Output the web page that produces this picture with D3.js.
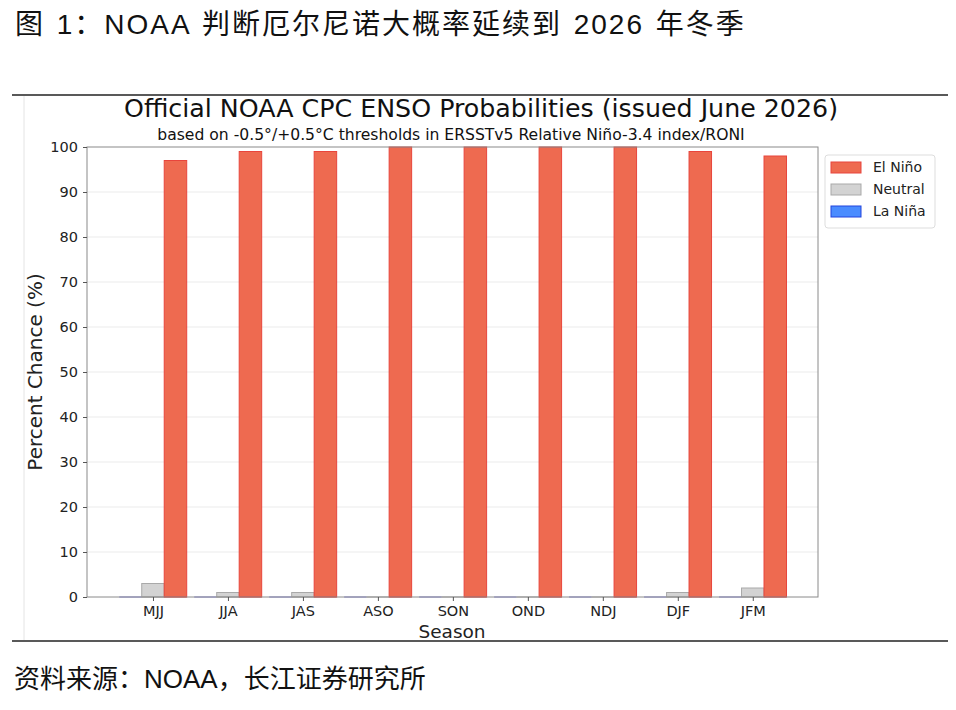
<!DOCTYPE html>
<html>
<head>
<meta charset="utf-8">
<script src="https://cdn.jsdelivr.net/npm/d3@7"></script>
<style>
  body { margin: 0; background: #fff; }
  svg { display: block; }
</style>
</head>
<body>
<div id="chart"></div>
<script>
const seasons = ['MJJ', 'JJA', 'JAS', 'ASO', 'SON', 'OND', 'NDJ', 'DJF', 'JFM'];
const laNina = [0, 0, 0, 0, 0, 0, 0, 0, 0];
const neutral = [3, 1, 1, 0, 0, 0, 0, 1, 2];
const elNino = [97, 99, 99, 100, 100, 100, 100, 99, 98];
const yTicks = [0, 10, 20, 30, 40, 50, 60, 70, 80, 90, 100];

const series = [
  { name: 'La Niña', values: laNina, offset: -1, fill: '#4a8cff', stroke: '#2244dd' },
  { name: 'Neutral', values: neutral, offset: 0, fill: '#d3d3d3', stroke: '#a9a9a9' },
  { name: 'El Niño', values: elNino, offset: 1, fill: '#ee6a50', stroke: '#e8453c' }
];

const W = 956, H = 710;
const svg = d3.select('#chart').append('svg').attr('width', W).attr('height', H);
const cjk = "'Liberation Sans', Arial, 'Noto Sans CJK SC', sans-serif";
const mpl = "'DejaVu Sans', sans-serif";

// heading
svg.append('text').attr('x', 15).attr('y', 34)
  .style('font-family', cjk).style('font-size', '28px').style('letter-spacing', '2px')
  .style('word-spacing', '2px')
  .attr('fill', '#111')
  .text('图  1：NOAA 判断厄尔尼诺大概率延续到 2026 年冬季');

// frame lines
svg.append('line').attr('x1', 12).attr('x2', 948).attr('y1', 95).attr('y2', 95)
  .attr('stroke', '#222').attr('stroke-width', 1.5);
svg.append('line').attr('x1', 12).attr('x2', 948).attr('y1', 641).attr('y2', 641)
  .attr('stroke', '#222').attr('stroke-width', 1.5);
svg.append('line').attr('x1', 24).attr('x2', 24).attr('y1', 96).attr('y2', 640)
  .attr('stroke', '#e4e4e4').attr('stroke-width', 1);

// plot area
const pL = 87, pR = 818, pT = 147, pB = 597;
const x = d3.scaleLinear().domain([-0.88, seasons.length - 1 + 0.87]).range([pL, pR]);
const y = d3.scaleLinear().domain([0, 100]).range([pB, pT]);
const bw = 0.3;

const g = svg.append('g');

// grid
g.selectAll('.grid').data(yTicks.filter(d => d > 0 && d < 100)).enter().append('line')
  .attr('x1', pL).attr('x2', pR)
  .attr('y1', d => y(d)).attr('y2', d => y(d))
  .attr('stroke', '#ebebeb').attr('stroke-width', 1);

// bars
series.forEach(s => {
  g.append('g').selectAll('rect').data(s.values).enter().append('rect')
    .attr('x', (d, i) => x(i + s.offset * bw - bw / 2))
    .attr('width', x(bw) - x(0))
    .attr('y', d => y(d))
    .attr('height', d => Math.max(0, y(0) - y(d)))
    .attr('fill', s.fill)
    .attr('stroke', s.stroke)
    .attr('stroke-width', 1);
  // zero-height bars still show an edge line in matplotlib
  g.append('g').selectAll('line').data(s.values).enter().append('line')
    .attr('x1', (d, i) => x(i + s.offset * bw - bw / 2))
    .attr('x2', (d, i) => x(i + s.offset * bw + bw / 2))
    .attr('y1', y(0)).attr('y2', y(0))
    .attr('stroke', s.name === 'La Niña' ? '#7777dd' : s.stroke)
    .attr('stroke-width', 1);
});

// axes frame
g.append('rect').attr('x', pL).attr('y', pT).attr('width', pR - pL).attr('height', pB - pT)
  .attr('fill', 'none').attr('stroke', '#8a8a8a').attr('stroke-width', 1);

const yAxis = d3.axisLeft(y).tickValues(yTicks).tickSize(4).tickPadding(5);
const ya = svg.append('g').attr('transform', `translate(${pL},0)`).call(yAxis);
ya.select('.domain').remove();
ya.selectAll('line').attr('stroke', '#555');
ya.selectAll('text').style('font-family', mpl).style('font-size', '14.5px').attr('fill', '#222');

const xAxis = d3.axisBottom(x).tickValues(d3.range(seasons.length)).tickFormat(i => seasons[i]).tickSize(4).tickPadding(5);
const xa = svg.append('g').attr('transform', `translate(0,${pB})`).call(xAxis);
xa.select('.domain').remove();
xa.selectAll('line').attr('stroke', '#555');
xa.selectAll('text').style('font-family', mpl).style('font-size', '14.5px').attr('fill', '#222');

// titles
svg.append('text').attr('x', 481).attr('y', 117).attr('text-anchor', 'middle')
  .style('font-family', mpl).style('font-size', '25.3px').attr('fill', '#111')
  .text('Official NOAA CPC ENSO Probabilities (issued June 2026)');
svg.append('text').attr('x', 451).attr('y', 140).attr('text-anchor', 'middle')
  .style('font-family', mpl).style('font-size', '15.6px').attr('fill', '#111')
  .text('based on -0.5°/+0.5°C thresholds in ERSSTv5 Relative Niño-3.4 index/RONI');

svg.append('text').attr('x', 452).attr('y', 638).attr('text-anchor', 'middle')
  .style('font-family', mpl).style('font-size', '18.5px').attr('fill', '#222')
  .text('Season');
svg.append('text').attr('transform', `translate(42,${(pT + pB) / 2}) rotate(-90)`)
  .attr('text-anchor', 'middle')
  .style('font-family', mpl).style('font-size', '20px').attr('fill', '#222')
  .text('Percent Chance (%)');

// legend
const lg = svg.append('g').attr('transform', 'translate(825,155)');
lg.append('rect').attr('width', 110).attr('height', 73).attr('rx', 3)
  .attr('fill', '#fff').attr('stroke', '#dddddd');
const legendItems = [series[2], series[1], series[0]];
legendItems.forEach((s, i) => {
  const row = lg.append('g').attr('transform', `translate(0,${12 + i * 22})`);
  row.append('rect').attr('x', 6).attr('y', -5).attr('width', 30).attr('height', 11)
    .attr('fill', s.fill).attr('stroke', s.stroke);
  row.append('text').attr('x', 48).attr('y', 5)
    .style('font-family', mpl).style('font-size', '14px').attr('fill', '#222')
    .text(s.name);
});

// source
svg.append('text').attr('x', 14).attr('y', 688)
  .style('font-family', cjk).style('font-size', '26px').attr('fill', '#111')
  .text('资料来源：NOAA，长江证券研究所');
</script>
</body>
</html>
